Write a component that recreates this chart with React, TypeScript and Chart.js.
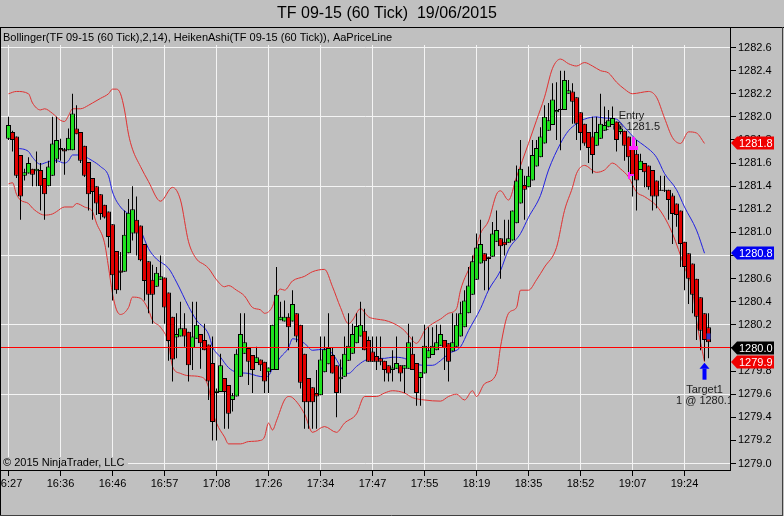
import React, { useEffect, useRef } from "react";
import { Chart, registerables } from "chart.js";
Chart.register(...registerables);

const TITLE = "TF 09-15 (60 Tick)  19/06/2015";
const LEGEND_TEXT = "Bollinger(TF 09-15 (60 Tick),2,14), HeikenAshi(TF 09-15 (60 Tick)), AaPriceLine";
const COPYRIGHT = "\u00A9 2015 NinjaTrader, LLC";

const X_LABELS = ["16:27", "16:36", "16:46", "16:57", "17:08", "17:26", "17:34", "17:47", "17:55", "18:19", "18:35", "18:52", "19:07", "19:24"];
const BARS_PER_LABEL = 13;
const Y_TICKS = [1279.0, 1279.2, 1279.4, 1279.6, 1279.8, 1280.0, 1280.2, 1280.4, 1280.6, 1280.8, 1281.0, 1281.2, 1281.4, 1281.6, 1281.8, 1282.0, 1282.2, 1282.4, 1282.6];
const Y_MIN = 1278.944;
const Y_MAX = 1282.769;
const X_MIN = -1.875;
const X_MAX = 180.375;

// Heiken Ashi bars
const OPEN = [1281.81,1281.87,1281.83,1281.67,1281.49,1281.51,1281.55,1281.53,1281.54,1281.47,1281.40,1281.49,1281.63,1281.73,1281.72,1281.71,1281.71,1281.90,1281.87,1281.75,1281.61,1281.47,1281.40,1281.33,1281.24,1281.18,1281.07,1280.84,1280.67,1280.66,1280.82,1280.99,1281.11,1281.06,1280.90,1280.75,1280.59,1280.53,1280.59,1280.61,1280.48,1280.27,1280.09,1280.10,1280.17,1280.14,1280.00,1280.08,1280.12,1280.07,1280.03,1279.87,1279.61,1279.62,1279.74,1279.68,1279.55,1279.58,1279.75,1279.95,1280.00,1279.94,1279.87,1279.90,1279.88,1279.79,1279.81,1279.81,1280.24,1280.23,1280.27,1280.23,1280.30,1280.20,1279.95,1279.74,1279.66,1279.61,1279.59,1279.79,1279.86,1279.94,1279.85,1279.73,1279.75,1279.89,1279.95,1280.04,1280.10,1280.15,1280.07,1279.97,1279.93,1279.91,1279.89,1279.85,1279.81,1279.82,1279.85,1279.82,1279.82,1279.95,1279.87,1279.74,1279.78,1279.91,1279.94,1279.98,1280.02,1280.07,1280.04,1279.97,1280.01,1280.10,1280.18,1280.30,1280.46,1280.59,1280.73,1280.82,1280.79,1280.79,1280.92,1280.95,1280.92,1280.91,1280.93,1281.08,1281.25,1281.41,1281.39,1281.45,1281.57,1281.65,1281.77,1281.88,1281.93,1282.04,1282.06,1282.06,1282.20,1282.22,1282.17,1282.04,1281.94,1281.87,1281.83,1281.75,1281.81,1281.88,1281.91,1281.93,1281.96,1281.87,1281.88,1281.83,1281.75,1281.68,1281.54,1281.60,1281.58,1281.54,1281.45,1281.36,1281.36,1281.37,1281.32,1281.25,1281.19,1280.92,1280.82,1280.73,1280.60,1280.44,1280.30,1280.18];
const HIGH = [1282.00,1281.88,1281.83,1281.67,1281.55,1281.65,1281.55,1281.70,1281.60,1281.47,1281.62,1282.00,1282.00,1281.81,1281.73,1281.90,1282.20,1282.10,1281.87,1281.75,1281.61,1281.47,1281.40,1281.33,1281.24,1281.18,1281.07,1280.84,1280.83,1281.19,1281.29,1281.40,1281.31,1281.06,1280.90,1280.75,1280.72,1280.70,1280.80,1280.61,1280.48,1280.27,1280.30,1280.40,1280.30,1280.14,1280.40,1280.40,1280.12,1280.21,1280.03,1280.10,1279.65,1279.95,1279.74,1279.68,1279.61,1279.99,1280.30,1280.30,1280.00,1279.94,1280.01,1279.90,1279.88,1279.83,1280.20,1280.70,1280.40,1280.41,1280.30,1280.50,1280.30,1280.20,1279.95,1279.74,1279.66,1279.81,1280.10,1280.10,1280.30,1280.00,1279.85,1279.90,1280.10,1280.30,1280.21,1280.30,1280.40,1280.34,1280.10,1280.10,1280.10,1280.10,1279.89,1279.85,1279.98,1280.10,1279.85,1279.85,1280.21,1280.10,1279.87,1279.79,1280.20,1280.18,1280.18,1280.20,1280.20,1280.07,1280.04,1280.30,1280.30,1280.40,1280.50,1280.70,1280.80,1280.99,1281.11,1280.82,1280.79,1281.09,1281.19,1280.95,1281.11,1281.11,1281.19,1281.58,1281.80,1281.49,1281.57,1281.80,1281.80,1281.91,1282.10,1282.12,1282.29,1282.30,1282.40,1282.40,1282.32,1282.29,1282.17,1282.04,1281.94,1281.87,1282.00,1282.00,1282.20,1282.09,1282.06,1282.09,1281.96,1281.92,1281.88,1281.83,1281.75,1281.80,1281.68,1281.60,1281.58,1281.54,1281.45,1281.49,1281.49,1281.37,1281.34,1281.25,1281.19,1280.92,1280.82,1280.73,1280.60,1280.44,1280.30,1280.30];
const LOW = [1281.80,1281.70,1281.47,1281.11,1281.45,1281.51,1281.40,1281.40,1281.19,1281.11,1281.40,1281.49,1281.60,1281.62,1281.50,1281.71,1281.71,1281.85,1281.60,1281.48,1281.19,1281.11,1281.15,1281.11,1281.12,1280.87,1280.41,1280.47,1280.50,1280.66,1280.82,1280.93,1280.80,1280.75,1280.41,1280.30,1280.21,1280.53,1280.59,1280.21,1279.89,1279.71,1279.91,1280.10,1280.01,1279.71,1279.81,1280.08,1279.82,1279.98,1279.55,1279.20,1279.20,1279.62,1279.30,1279.30,1279.45,1279.58,1279.75,1279.95,1279.68,1279.61,1279.87,1279.80,1279.61,1279.61,1279.81,1279.81,1280.24,1280.23,1279.98,1280.23,1280.05,1279.65,1279.30,1279.30,1279.30,1279.30,1279.59,1279.79,1279.86,1279.78,1279.40,1279.61,1279.75,1279.89,1279.95,1280.04,1280.10,1279.98,1279.88,1279.88,1279.81,1279.85,1279.71,1279.71,1279.71,1279.82,1279.71,1279.61,1279.82,1279.81,1279.50,1279.50,1279.78,1279.91,1279.94,1279.98,1280.02,1279.81,1279.71,1279.97,1280.01,1280.10,1280.18,1280.30,1280.46,1280.59,1280.73,1280.50,1280.50,1280.79,1280.92,1280.60,1280.80,1280.91,1280.93,1281.08,1281.25,1281.11,1281.39,1281.45,1281.57,1281.65,1281.77,1281.88,1281.93,1281.80,1281.71,1282.06,1282.20,1281.94,1281.80,1281.71,1281.75,1281.60,1281.51,1281.75,1281.81,1281.88,1281.91,1281.93,1281.70,1281.85,1281.62,1281.51,1281.31,1281.19,1281.54,1281.39,1281.37,1281.19,1281.21,1281.36,1281.35,1281.11,1280.90,1281.05,1280.70,1280.50,1280.38,1280.30,1280.07,1279.98,1279.89,1279.91];
const CLOSE = [1281.93,1281.80,1281.49,1281.31,1281.52,1281.60,1281.50,1281.55,1281.40,1281.33,1281.57,1281.77,1281.80,1281.71,1281.70,1281.82,1282.03,1281.85,1281.62,1281.49,1281.33,1281.35,1281.25,1281.16,1281.13,1280.96,1280.63,1280.50,1280.65,1280.98,1281.17,1281.20,1280.99,1280.76,1280.58,1280.46,1280.46,1280.65,1280.62,1280.35,1280.06,1279.90,1280.12,1280.17,1280.10,1279.85,1280.10,1280.20,1280.04,1279.98,1279.71,1279.36,1279.63,1279.85,1279.62,1279.43,1279.59,1279.95,1280.12,1280.05,1279.88,1279.81,1279.92,1279.85,1279.71,1279.83,1280.20,1280.46,1280.27,1280.27,1280.18,1280.38,1280.10,1279.70,1279.53,1279.53,1279.53,1279.58,1279.90,1279.99,1280.00,1279.78,1279.61,1279.75,1279.95,1280.02,1280.12,1280.19,1280.20,1279.98,1279.88,1279.88,1279.88,1279.88,1279.81,1279.78,1279.83,1279.87,1279.78,1279.85,1280.05,1279.81,1279.61,1279.79,1280.02,1279.98,1280.02,1280.05,1280.12,1280.00,1279.88,1280.05,1280.20,1280.30,1280.41,1280.54,1280.75,1280.87,1280.90,1280.75,1280.77,1280.99,1281.02,1280.88,1280.89,1280.95,1281.19,1281.45,1281.55,1281.37,1281.49,1281.67,1281.73,1281.83,1282.00,1281.97,1282.15,1282.06,1282.07,1282.32,1282.23,1282.13,1281.94,1281.86,1281.77,1281.73,1281.67,1281.87,1281.94,1281.93,1281.97,1281.99,1281.80,1281.90,1281.75,1281.65,1281.49,1281.45,1281.62,1281.52,1281.39,1281.31,1281.31,1281.37,1281.37,1281.28,1281.16,1281.15,1280.90,1280.70,1280.60,1280.46,1280.27,1280.15,1280.07,1280.05];

// Bollinger bands (bar index, value)
const UPPER_IDX = [0,2,5,6,8,9,11,13,14,15,16,18,20,21,23,25,26,27,28,29,30,31,33,35,38,41,43,45,47,49,50,52,54,55,57,59,61,63,64,66,67,68,69,71,74,76,79,81,83,85,86,88,90,92,94,95,97,99,100,102,103,104,106,108,110,112,113,116,118,120,122,123,125,127,130,132,134,136,138,140,142,144,146,148,150,152,154,156,158,160,162,164,166,168,170,172,174];
const UPPER_VAL = [1282.20,1282.22,1282.20,1282.12,1282.06,1282.07,1282.03,1281.97,1281.96,1282.01,1282.07,1282.07,1282.10,1282.12,1282.16,1282.20,1282.24,1282.24,1282.20,1282.06,1281.85,1281.72,1281.57,1281.44,1281.27,1281.39,1281.28,1280.92,1280.77,1280.72,1280.69,1280.59,1280.53,1280.54,1280.50,1280.45,1280.35,1280.33,1280.30,1280.36,1280.47,1280.51,1280.50,1280.58,1280.62,1280.66,1280.68,1280.53,1280.35,1280.21,1280.24,1280.34,1280.27,1280.25,1280.24,1280.23,1280.20,1280.15,1280.11,1280.04,1280.08,1280.15,1280.21,1280.25,1280.30,1280.34,1280.50,1280.76,1280.99,1281.10,1281.33,1281.36,1281.28,1281.48,1281.77,1281.97,1282.17,1282.42,1282.50,1282.46,1282.44,1282.47,1282.44,1282.40,1282.38,1282.30,1282.24,1282.20,1282.21,1282.22,1282.17,1281.99,1281.82,1281.77,1281.87,1281.86,1281.77];
const MIDDLE_IDX = [2,5,6,8,9,11,12,14,15,16,18,20,21,23,25,26,28,30,31,33,35,37,40,42,45,47,50,51,53,55,57,60,62,64,65,66,68,70,71,74,76,79,81,84,85,87,89,91,94,96,99,101,104,106,108,110,113,115,118,120,123,125,128,130,133,135,138,140,142,144,147,149,152,154,157,159,162,164,167,169,172,174];
const MIDDLE_VAL = [1281.73,1281.70,1281.65,1281.59,1281.60,1281.62,1281.62,1281.60,1281.62,1281.67,1281.67,1281.64,1281.62,1281.57,1281.49,1281.35,1281.22,1281.16,1281.13,1281.02,1280.86,1280.77,1280.69,1280.57,1280.36,1280.24,1280.12,1280.01,1279.92,1279.83,1279.79,1279.78,1279.76,1279.75,1279.76,1279.82,1279.92,1280.00,1280.08,1280.04,1279.98,1279.99,1279.95,1279.79,1279.78,1279.84,1279.89,1279.91,1279.91,1279.92,1279.91,1279.87,1279.85,1279.85,1279.89,1279.95,1280.01,1280.15,1280.34,1280.50,1280.67,1280.85,1280.99,1281.13,1281.32,1281.54,1281.77,1281.88,1281.94,1281.98,1282.00,1281.99,1281.98,1281.91,1281.80,1281.75,1281.65,1281.51,1281.37,1281.22,1281.02,1280.82];
const LOWER_IDX = [0,1,2,3,5,6,8,9,11,12,14,16,17,19,21,22,24,25,26,27,28,30,31,33,35,36,38,40,41,43,45,48,50,51,52,54,55,58,60,63,64,65,66,67,69,70,71,74,76,79,82,84,87,89,92,94,96,99,101,104,108,110,112,114,116,117,119,122,123,125,127,128,130,132,134,137,139,141,142,144,147,149,151,153,155,157,159,162,164,166,169,171,172,174];
const LOWER_VAL = [1281.42,1281.43,1281.33,1281.28,1281.25,1281.21,1281.16,1281.15,1281.16,1281.18,1281.22,1281.22,1281.25,1281.22,1281.18,1281.08,1280.91,1280.70,1280.47,1280.33,1280.29,1280.35,1280.44,1280.43,1280.33,1280.24,1280.18,1280.04,1279.84,1279.78,1279.76,1279.75,1279.66,1279.46,1279.35,1279.23,1279.17,1279.17,1279.19,1279.20,1279.23,1279.35,1279.29,1279.37,1279.55,1279.58,1279.57,1279.43,1279.27,1279.32,1279.27,1279.35,1279.43,1279.58,1279.58,1279.61,1279.63,1279.61,1279.57,1279.55,1279.54,1279.58,1279.60,1279.55,1279.63,1279.58,1279.69,1279.78,1280.01,1280.30,1280.35,1280.50,1280.50,1280.59,1280.70,1280.87,1281.19,1281.39,1281.51,1281.58,1281.52,1281.54,1281.60,1281.55,1281.48,1281.35,1281.31,1281.23,1281.13,1280.99,1280.70,1280.50,1280.24,1279.88];

const PRICE_LINE = 1280.0;
const ENTRY_BAR = 156;
const ENTRY_PRICE = 1281.5;
const ENTRY_MARK_PRICE = 1281.83;
const ENTRY_LABEL = "Entry";
const ENTRY_FILL = "1 @ 1281.5";
const TARGET_BAR = 174;
const TARGET_LABEL = "Target1";
const TARGET_FILL = "1 @ 1280.1";
const EXIT_BAR = 175;
const EXIT_PRICE = 1280.1;

const BG = "#C0C0C0";
const GREEN = "#20E020";
const RED = "#E00000";
const FONT = '"Liberation Sans", Arial, sans-serif';
const OFF = 20;

const overlay = {
  id: "ntOverlay",
  beforeDatasetsDraw(chart: any) {
    const { ctx, chartArea: a, scales } = chart;
    const xs = scales.x, ys = scales.y;
    ctx.save();
    ctx.fillStyle = BG;
    ctx.fillRect(a.left, a.top, a.right - a.left, 17);
    ctx.fillRect(a.left, 457, OFF + 128 - a.left, a.bottom - 457);
    ctx.fillStyle = "#000";
    ctx.font = `11px ${FONT}`;
    ctx.textAlign = "left";
    ctx.textBaseline = "alphabetic";
    ctx.fillText(LEGEND_TEXT, OFF + 3, 41);
    ctx.fillText(COPYRIGHT, OFF + 3, 466);
    ctx.beginPath();
    ctx.rect(a.left, a.top, a.right - a.left, a.bottom - a.top);
    ctx.clip();
    ctx.fillStyle = "#202020";
    ctx.textAlign = "center";
    const ex = xs.getPixelForValue(ENTRY_BAR) - 1;
    const em = ys.getPixelForValue(ENTRY_MARK_PRICE);
    ctx.fillText(ENTRY_LABEL, ex, em - 18);
    ctx.fillText(ENTRY_FILL, ex, em - 7);
    const tx = xs.getPixelForValue(TARGET_BAR);
    const ty = ys.getPixelForValue(LOW[TARGET_BAR]) + 2;
    ctx.fillText(TARGET_LABEL, tx, ty + 30);
    ctx.fillText(TARGET_FILL, tx, ty + 41);
    ctx.restore();
  },
  afterDatasetsDraw(chart: any) {
    const { ctx, chartArea: a, scales } = chart;
    const xs = scales.x, ys = scales.y;
    ctx.save();
    // price line
    const py = Math.round(ys.getPixelForValue(PRICE_LINE));
    ctx.fillStyle = "#FF0000";
    ctx.fillRect(a.left, py - 1, a.right - a.left, 1);
    ctx.fillStyle = "#FF20FF";
    const ex = Math.round(xs.getPixelForValue(ENTRY_BAR));
    const em = Math.round(ys.getPixelForValue(ENTRY_MARK_PRICE));
    ctx.fillRect(ex - 1, em, 3, 13);
    ctx.fillRect(ex - 4, em + 9, 9, 4);
    const ep = Math.round(ys.getPixelForValue(ENTRY_PRICE));
    ctx.fillRect(ex - 5, ep - 3, 2, 7);
    ctx.fillRect(ex - 5, ep - 1, 6, 2);
    // target arrow
    const tx = xs.getPixelForValue(TARGET_BAR);
    const ty = ys.getPixelForValue(LOW[TARGET_BAR]) + 2;
    ctx.fillStyle = "#0000FF";
    ctx.beginPath();
    ctx.moveTo(tx, ty);
    ctx.lineTo(tx + 5, ty + 6);
    ctx.lineTo(tx - 5, ty + 6);
    ctx.closePath();
    ctx.fill();
    ctx.fillRect(tx - 2, ty + 6, 4, 11);
    // exit marker
    const qx = xs.getPixelForValue(EXIT_BAR);
    const qy = ys.getPixelForValue(EXIT_PRICE);
    ctx.fillStyle = "#3838C8";
    ctx.fillRect(qx - 2, qy - 3, 4, 6);
    ctx.restore();
  },
  afterDraw(chart: any) {
    const { ctx, chartArea: a, scales, width, height } = chart;
    const ys = scales.y;
    ctx.save();
    const tag = (v: number, fill: string) => {
      const yc = Math.round(ys.getPixelForValue(v));
      const l = a.right + 1, bx = l + 6, r = bx + 37;
      ctx.fillStyle = fill;
      ctx.beginPath();
      ctx.moveTo(l, yc);
      ctx.lineTo(bx, yc - 6.5);
      ctx.lineTo(r, yc - 6.5);
      ctx.lineTo(r, yc + 6.5);
      ctx.lineTo(bx, yc + 6.5);
      ctx.closePath();
      ctx.fill();
      ctx.fillStyle = "#FFFFFF";
      ctx.font = `11px ${FONT}`;
      ctx.textAlign = "left";
      ctx.textBaseline = "middle";
      ctx.fillText(v.toFixed(1), bx + 2, yc + 0.5);
    };
    tag(UPPER_VAL[UPPER_VAL.length - 1], "#F00000");
    tag(MIDDLE_VAL[MIDDLE_VAL.length - 1], "#0000F0");
    tag(PRICE_LINE, "#000000");
    tag(LOWER_VAL[LOWER_VAL.length - 1], "#F00000");
    // title
    ctx.fillStyle = "#000";
    ctx.font = `16px ${FONT}`;
    ctx.textAlign = "center";
    ctx.textBaseline = "alphabetic";
    ctx.fillText(TITLE, OFF + 387, 18);
    // frame
    ctx.strokeStyle = "#000";
    ctx.lineWidth = 1;
    ctx.beginPath();
    ctx.moveTo(0, 27.5); ctx.lineTo(width, 27.5);
    ctx.moveTo(OFF + 0.5, 27); ctx.lineTo(OFF + 0.5, height);
    ctx.stroke();
    ctx.strokeStyle = "#404040";
    ctx.beginPath();
    ctx.moveTo(OFF, 515.5); ctx.lineTo(OFF + 783, 515.5);
    ctx.moveTo(OFF + 782.5, 27); ctx.lineTo(OFF + 782.5, 516);
    ctx.stroke();
    ctx.restore();
  },
};

export default function App() {
  const ref = useRef<HTMLCanvasElement>(null);
  useEffect(() => {
    if (!ref.current) return;
    const bodies = OPEN.map((o, i) => ({ x: i, y: [o, CLOSE[i]] }));
    const wicks = LOW.map((l, i) => ({ x: i, y: [l, HIGH[i]] }));
    const band = (idx: number[], val: number[]) => idx.map((x, k) => ({ x, y: val[k] }));
    const chart = new Chart(ref.current, {
      type: "bar",
      data: {
        datasets: [
          {
            type: "bar",
            data: bodies as any,
            backgroundColor: OPEN.map((o, i) => (CLOSE[i] >= o ? GREEN : RED)),
            borderColor: "#000",
            borderWidth: 1,
            borderSkipped: false,
            barThickness: 5,
            grouped: false,
            inflateAmount: 0,
            order: 0,
          } as any,
          {
            type: "bar",
            data: wicks as any,
            backgroundColor: "#000",
            borderWidth: 0,
            barThickness: 1,
            grouped: false,
            inflateAmount: 0,
            order: 1,
          } as any,
          {
            type: "line",
            data: band(UPPER_IDX, UPPER_VAL) as any,
            borderColor: "#E03030",
            borderWidth: 1,
            pointRadius: 0,
            cubicInterpolationMode: "monotone",
            order: 5,
          } as any,
          {
            type: "line",
            data: band(LOWER_IDX, LOWER_VAL) as any,
            borderColor: "#E03030",
            borderWidth: 1,
            pointRadius: 0,
            cubicInterpolationMode: "monotone",
            order: 5,
          } as any,
          {
            type: "line",
            data: band(MIDDLE_IDX, MIDDLE_VAL) as any,
            borderColor: "#2020E0",
            borderWidth: 1,
            pointRadius: 0,
            cubicInterpolationMode: "monotone",
            order: 5,
          } as any,
        ],
      },
      options: {
        responsive: false,
        devicePixelRatio: 1,
        animation: false,
        events: [],
        layout: { padding: { left: 21, top: 28, right: 0, bottom: 0 }, autoPadding: false },
        plugins: { legend: { display: false }, tooltip: { enabled: false }, title: { display: false } },
        scales: {
          x: {
            type: "linear",
            min: X_MIN,
            max: X_MAX,
            offset: false,
            afterBuildTicks: (s: any) => {
              s.ticks = X_LABELS.map((_, k) => ({ value: k * BARS_PER_LABEL }));
            },
            afterFit: (s: any) => {
              s.height = 46;
            },
            ticks: {
              autoSkip: false,
              maxRotation: 0,
              minRotation: 0,
              padding: 1,
              color: "#000",
              font: { family: FONT, size: 11 },
              callback: (v: any) => X_LABELS[Math.round(Number(v) / BARS_PER_LABEL)] ?? "",
            },
            grid: { offset: false, color: "#F4F4F4", tickColor: "#000", tickLength: 6, lineWidth: 1 },
            border: { display: true, color: "#000", width: 1 },
          },
          y: {
            type: "linear",
            position: "right",
            min: Y_MIN,
            max: Y_MAX,
            afterBuildTicks: (s: any) => {
              s.ticks = Y_TICKS.map((v) => ({ value: v }));
            },
            afterFit: (s: any) => {
              s.width = 54;
            },
            ticks: {
              padding: 2,
              color: "#000",
              font: { family: FONT, size: 11 },
              callback: (v: any) => Number(v).toFixed(1),
            },
            grid: {
              color: (c: any) => {
                const v = c.tick ? c.tick.value : 0;
                return Math.round((v - Y_TICKS[0]) / 0.2) % 3 === 0 ? "#F4F4F4" : "rgba(0,0,0,0)";
              },
              tickColor: "#000",
              tickLength: 6,
              lineWidth: 1,
            },
            border: { display: true, color: "#000", width: 1 },
          },
        },
      } as any,
      plugins: [overlay],
    });
    return () => chart.destroy();
  }, []);
  return (
    <div style={{ position: "fixed", left: 0, top: 0, width: 784, height: 516, overflow: "hidden", background: BG }}>
      <canvas ref={ref} width={804} height={516} style={{ position: "absolute", left: -20, top: 0, width: 804, height: 516 }} />
    </div>
  );
}
